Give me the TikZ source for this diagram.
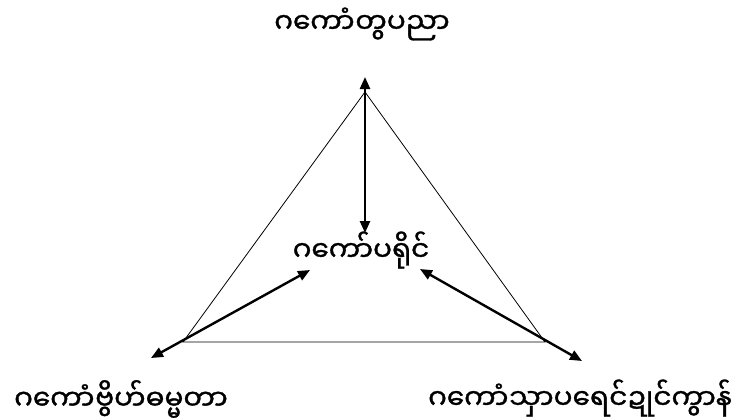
\documentclass[tikz,border=0pt]{standalone}
\usepackage{fontspec}
\newfontfamily\mmfont[Script=Myanmar,FakeBold=1.2]{Noto Sans Myanmar UI}
\usetikzlibrary{arrows.meta}
\begin{document}
\begin{tikzpicture}[x=1pt,y=-1pt,
  lbl/.style={font=\mmfont\fontsize{28}{32}\selectfont, inner sep=0pt},
  edge/.style={line width=0.8pt},
  dbl/.style={line width=2.4pt, {Triangle[length=12pt,width=10pt]}-{Triangle[length=12pt,width=10pt]}}]
\useasboundingbox (0,0) rectangle (733,420);
\fill[white] (0,0) rectangle (733,420);
% triangle vertices
\coordinate (A) at (365,92);
\coordinate (B) at (183,342);
\coordinate (C) at (545,342);
\draw[edge] (A) -- (B) -- (C) -- cycle;
% labels
\node[lbl] (top) at (362,24) {ဂကောံတွပညာ};
\node[lbl] (mid) at (361,250) {ဂကော်ပရိုင်};
\node[lbl] (bl) at (121,399) {ဂကောံဗွိဟ်ဓမ္မတာ};
\node[lbl] (br) at (580,398) {ဂကောံသှာပရေင်ဍုင်ကွာန်};
% arrow endpoints
\coordinate (t1) at (365,77);
\coordinate (t2) at (365,233);
\coordinate (l1) at (151,358);
\coordinate (l2) at (310,270);
\coordinate (r1) at (420,269);
\coordinate (r2) at (582,361);
\draw[dbl] (t1) -- (t2);
\draw[dbl] (l1) -- (l2);
\draw[dbl] (r1) -- (r2);
\end{tikzpicture}
\end{document}
